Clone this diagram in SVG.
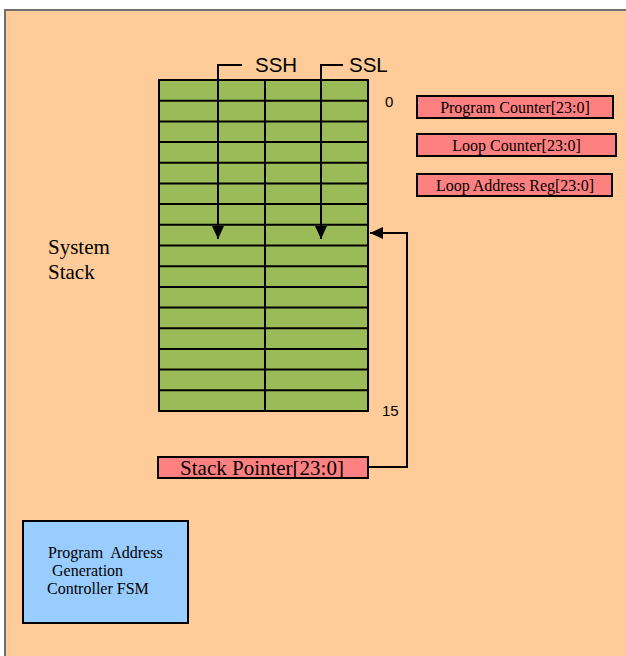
<svg xmlns="http://www.w3.org/2000/svg" width="626" height="656" viewBox="0 0 626 656">
  <defs>
    <style>
      .bg { fill: #FFCC99; stroke: #707070; stroke-width: 2; }
      .grid { stroke: #000; stroke-width: 2; fill: none; }
      .reg { fill: #FF8080; stroke: #000; stroke-width: 2; }
      .fsm { fill: #99CCFF; stroke: #000; stroke-width: 2; }
      .wire { stroke: #000; stroke-width: 2; fill: none; }
      .sans { font-family: "Liberation Sans", Arial, sans-serif; fill: #000; }
      .serif { font-family: "Liberation Serif", "Times New Roman", serif; fill: #000; white-space: pre; }
    </style>
    <marker id="arrow" markerWidth="13" markerHeight="12" refX="13" refY="6" orient="auto" markerUnits="userSpaceOnUse">
      <path d="M0,0 L13,6 L0,12 Z" fill="#000"/>
    </marker>
  </defs>

  <!-- page background -->
  <rect class="bg" x="5" y="10" width="630" height="660"/>

  <!-- system stack: 16 rows, two halves -->
  <g id="system-stack">
    <rect x="159" y="80" width="209" height="331" fill="#9BBB59"/>
    <path class="grid" d="M159,80 H368 V411 H159 Z
      M159,100.7 H368 M159,121.4 H368 M159,142.1 H368 M159,162.8 H368
      M159,183.4 H368 M159,204.1 H368 M159,224.8 H368 M159,245.5 H368
      M159,266.2 H368 M159,286.9 H368 M159,307.6 H368 M159,328.3 H368
      M159,349 H368 M159,369.6 H368 M159,390.3 H368
      M265,80 V411"/>
    <text class="sans" x="385" y="107" font-size="15">0</text>
    <text class="sans" x="382" y="416" font-size="15">15</text>
  </g>

  <g id="stack-label">
    <text class="serif" x="48" y="254" font-size="21">System</text>
    <text class="serif" x="48" y="279" font-size="21">Stack</text>
  </g>

  <g id="ssh">
    <text class="sans" x="255" y="72" font-size="20.5">SSH</text>
  </g>
  <g id="ssl">
    <text class="sans" x="349" y="72" font-size="20.5">SSL</text>
  </g>

  <g id="program-counter">
    <rect class="reg" x="417" y="96" width="196" height="22"/>
    <text class="serif" x="515" y="112.5" font-size="16" text-anchor="middle">Program Counter[23:0]</text>
  </g>
  <g id="loop-counter">
    <rect class="reg" x="417" y="134" width="199" height="22"/>
    <text class="serif" x="516.5" y="150.5" font-size="16" text-anchor="middle">Loop Counter[23:0]</text>
  </g>
  <g id="loop-address-reg">
    <rect class="reg" x="417" y="174" width="195" height="22"/>
    <text class="serif" x="515" y="190.5" font-size="16" text-anchor="middle">Loop Address Reg[23:0]</text>
  </g>

  <g id="stack-pointer">
    <rect class="reg" x="158" y="457" width="210" height="21"/>
    <text class="serif" x="262" y="475" font-size="21" text-anchor="middle">Stack Pointer[23:0]</text>
  </g>

  <g id="pag-fsm">
    <rect class="fsm" x="23" y="521" width="165" height="102"/>
    <text class="serif" x="48" y="558" font-size="16" xml:space="preserve">Program  Address</text>
    <text class="serif" x="52" y="576" font-size="16">Generation</text>
    <text class="serif" x="47" y="594" font-size="16">Controller FSM</text>
  </g>

  <!-- connectors -->
  <g id="connectors">
    <path class="wire" d="M242,65 H218 V239" marker-end="url(#arrow)"/>
    <path class="wire" d="M343,65 H321 V239" marker-end="url(#arrow)"/>
    <path class="wire" d="M368,467 H407 V233 H370" marker-end="url(#arrow)"/>
  </g>
</svg>
